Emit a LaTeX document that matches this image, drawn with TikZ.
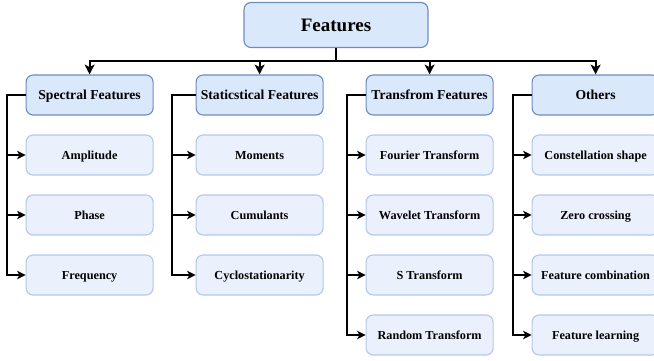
\documentclass[tikz,border=0pt]{standalone}
\usepackage{fontspec}
\setmainfont{Liberation Serif}
\usepackage{xcolor}
\usetikzlibrary{arrows.meta}
\definecolor{drawblue}{HTML}{6C8EBF}
\definecolor{fillblue}{HTML}{DAE8FC}
\definecolor{lightdraw}{HTML}{B3C8EA}
\definecolor{lightfill}{HTML}{EAF1FC}
\tikzset{
  rootbox/.style={draw=drawblue,fill=fillblue,rounded corners=5pt,line width=0.8pt,minimum width=4.6cm,minimum height=1.125cm,text height=9pt,text depth=0pt,font=\fontsize{13.5}{15}\selectfont\bfseries},
  catbox/.style={draw=drawblue,fill=fillblue,rounded corners=5pt,line width=0.8pt,minimum width=3.175cm,minimum height=1cm,text height=6.5pt,text depth=0pt,font=\fontsize{9.7}{11}\selectfont\bfseries},
  itembox/.style={draw=lightdraw,fill=lightfill,rounded corners=5pt,line width=0.8pt,minimum width=3.175cm,minimum height=1cm,text height=5.8pt,text depth=0pt,font=\fontsize{8.7}{10}\selectfont\bfseries},
  busarrow/.style={line width=1.4pt,-{Stealth[length=7pt,width=7pt,inset=1.8pt]}},
  sidearrow/.style={line width=1pt,-{Stealth[length=6pt,width=6pt,inset=1.6pt]}}
}
\begin{document}
\begin{tikzpicture}
            \useasboundingbox (0,0) rectangle (16.35,-9);
            \node[rootbox] (root) at (8.4,-0.625) {Features};
            
            \node[catbox] (cat1) at (2.24,-2.375) {Spectral Features};
            \node[catbox] (cat2) at (6.49,-2.375) {Staticstical Features};
            \node[catbox] (cat3) at (10.74,-2.375) {Transfrom Features};
            \node[catbox] (cat4) at (14.89,-2.375) {Others};
            
            \node[itembox] (spec1) at (2.24,-3.875) {Amplitude};
            \node[itembox] (spec2) at (2.24,-5.375) {Phase};
            \node[itembox] (spec3) at (2.24,-6.875) {Frequency};
            
            \node[itembox] (stat1) at (6.49,-3.875) {Moments};
            \node[itembox] (stat2) at (6.49,-5.375) {Cumulants};
            \node[itembox] (stat3) at (6.49,-6.875) {Cyclostationarity};
            
            \node[itembox] (trans1) at (10.74,-3.875) {Fourier Transform};
            \node[itembox] (trans2) at (10.74,-5.375) {Wavelet Transform};
            \node[itembox] (trans3) at (10.74,-6.875) {S Transform};
            \node[itembox] (trans4) at (10.74,-8.375) {Random Transform};
            
            \node[itembox] (oth1) at (14.89,-3.875) {Constellation shape};
            \node[itembox] (oth2) at (14.89,-5.375) {Zero crossing};
            \node[itembox] (oth3) at (14.89,-6.875) {Feature combination};
            \node[itembox] (oth4) at (14.89,-8.375) {Feature learning};
            
            \coordinate (bus) at (8.4,-1.525);
            \coordinate (spine1) at (0.175,-2.375);
            \coordinate (spine2) at (4.3,-2.375);
            \coordinate (spine3) at (8.675,-2.375);
            \coordinate (spine4) at (12.825,-2.375);
            
            \draw[busarrow] (root.south) -- (bus) -| (cat1.north);
            \draw[busarrow] (root.south) -- (bus) -| (cat2.north);
            \draw[busarrow] (root.south) -- (bus) -| (cat3.north);
            \draw[busarrow] (root.south) -- (bus) -| (cat4.north);
            
            \draw[sidearrow] (cat1.west) -- (spine1) |- (spec1.west);
            \draw[sidearrow] (cat1.west) -- (spine1) |- (spec2.west);
            \draw[sidearrow] (cat1.west) -- (spine1) |- (spec3.west);
            
            \draw[sidearrow] (cat2.west) -- (spine2) |- (stat1.west);
            \draw[sidearrow] (cat2.west) -- (spine2) |- (stat2.west);
            \draw[sidearrow] (cat2.west) -- (spine2) |- (stat3.west);
            
            \draw[sidearrow] (cat3.west) -- (spine3) |- (trans1.west);
            \draw[sidearrow] (cat3.west) -- (spine3) |- (trans2.west);
            \draw[sidearrow] (cat3.west) -- (spine3) |- (trans3.west);
            \draw[sidearrow] (cat3.west) -- (spine3) |- (trans4.west);
            
            \draw[sidearrow] (cat4.west) -- (spine4) |- (oth1.west);
            \draw[sidearrow] (cat4.west) -- (spine4) |- (oth2.west);
            \draw[sidearrow] (cat4.west) -- (spine4) |- (oth3.west);
            \draw[sidearrow] (cat4.west) -- (spine4) |- (oth4.west);
        \end{tikzpicture}
\end{document}
